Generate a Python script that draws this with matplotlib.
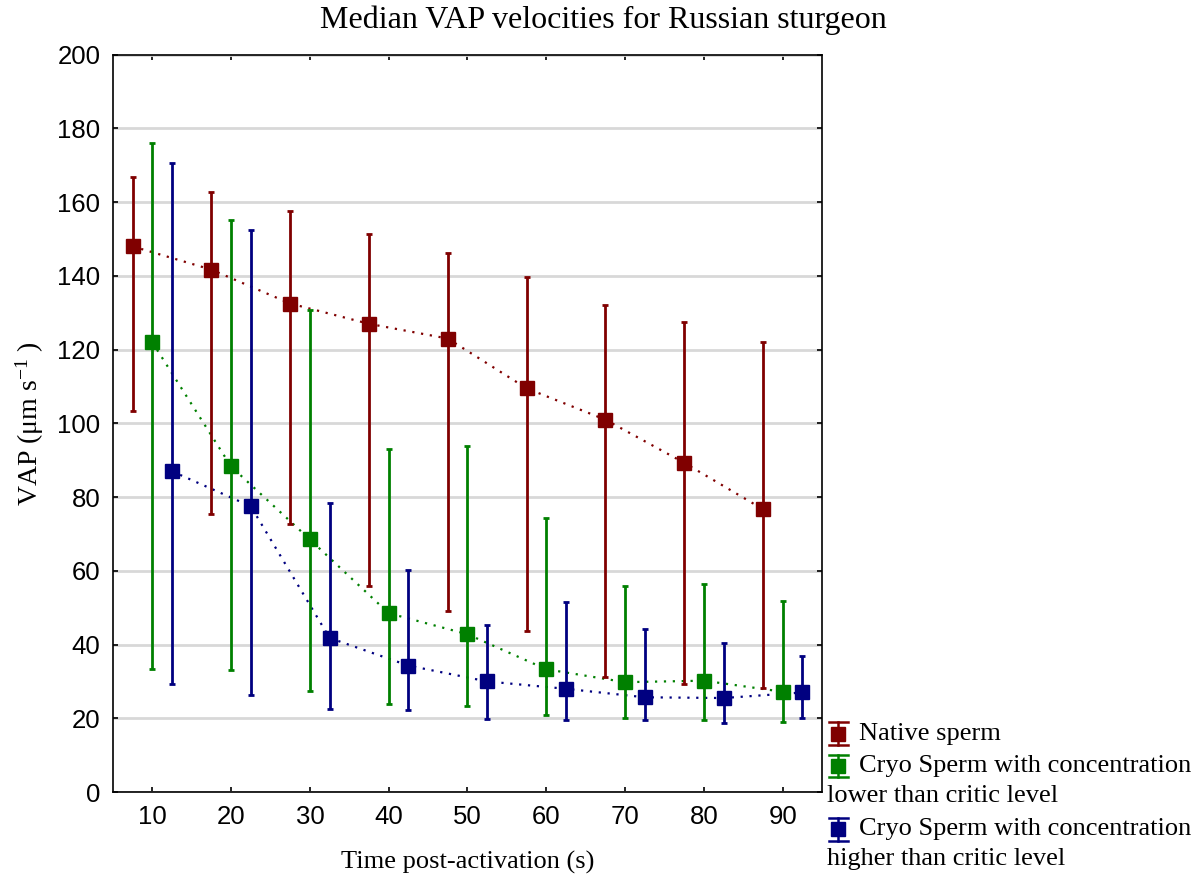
import matplotlib
matplotlib.use("Agg")
import matplotlib.pyplot as plt
from matplotlib.lines import Line2D
import numpy as np

plt.rcParams['mathtext.fontset'] = 'custom'
plt.rcParams['mathtext.rm'] = 'Liberation Serif'
plt.rcParams['mathtext.it'] = 'Liberation Serif:italic'

times = [10, 20, 30, 40, 50, 60, 70, 80, 90]
offsets = [-2.5, 0.0, 2.5]
labels = ["Native sperm",
          "Cryo Sperm with concentration\nlower than critic level",
          "Cryo Sperm with concentration\nhigher than critic level"]
colors = ["#800000", "#008000", "#000080"]

native_med = [148.0, 141.7, 132.5, 127.0, 123.0, 109.5, 101.0, 89.3, 76.7]
native_hi = [166.8, 162.8, 157.7, 151.4, 146.3, 139.6, 132.2, 127.6, 122.2]
native_lo = [103.3, 75.4, 72.6, 55.8, 49.1, 43.7, 31.2, 29.3, 28.2]

low_med = [122.0, 88.3, 68.5, 48.5, 42.8, 33.3, 29.8, 30.2, 27.2]
low_hi = [176.0, 155.2, 130.8, 93.0, 93.8, 74.4, 56.0, 56.5, 51.8]
low_lo = [33.3, 33.0, 27.4, 24.0, 23.4, 20.8, 20.0, 19.5, 19.0]

high_med = [87.0, 77.5, 41.8, 34.3, 30.0, 28.0, 25.7, 25.5, 27.0]
high_hi = [170.6, 152.5, 78.4, 60.2, 45.4, 51.6, 44.3, 40.5, 36.9]
high_lo = [29.4, 26.2, 22.4, 22.2, 19.8, 19.5, 19.5, 18.6, 20.2]

series = [(native_med, native_lo, native_hi),
          (low_med, low_lo, low_hi),
          (high_med, high_lo, high_hi)]

fig = plt.figure(figsize=(12.01, 8.82), dpi=100)
ax = fig.add_axes([0.094, 0.102, 0.5905, 0.836])

for (med, lo, hi), off, col in zip(series, offsets, colors):
    x = np.array(times) + off
    med = np.array(med); lo = np.array(lo); hi = np.array(hi)
    ax.plot(x, med, linestyle=(0, (1, 3)), color=col, lw=1.6, zorder=2)
    ax.errorbar(x, med, yerr=[med - lo, hi - med], fmt='s', color=col,
                ecolor=col, elinewidth=2, capsize=2.2, capthick=2,
                markersize=10.5, markeredgecolor=col, zorder=3)

ax.set_xlim(5, 95)
ax.set_ylim(0, 200)
ax.set_xticks(times)
ax.set_yticks(range(0, 201, 20))
ax.yaxis.grid(True, color='#d8d8d8', lw=2)
ax.set_axisbelow(True)
ax.tick_params(direction='in', length=3.5, width=1.2, labelsize=18.5,
               top=True, right=True, pad=9)
for lab in ax.get_xticklabels() + ax.get_yticklabels():
    lab.set_fontfamily('Liberation Sans')
for s in ax.spines.values():
    s.set_linewidth(1.2)

fig.text(0.502, 0.977, "Median VAP velocities for Russian sturgeon",
         fontfamily='Liberation Serif', fontsize=23, ha='center', va='center')
ax.set_xlabel("Time post-activation (s)", fontfamily='Liberation Serif',
              fontsize=19, labelpad=16)
ax.set_ylabel(r"VAP ($\mathrm{\mu}$m s$^{-1}$ )", fontfamily='Liberation Serif',
              fontsize=20, labelpad=8)

# manual legend outside lower right
ys = [0.168, 0.1315, 0.060]
for yy, col, lab in zip(ys, colors, labels):
    xm = 0.698
    fig.add_artist(Line2D([xm, xm], [yy - 0.013, yy + 0.013], color=col, lw=1.8,
                          transform=fig.transFigure))
    for dy in (-0.013, 0.013):
        fig.add_artist(Line2D([xm - 0.008, xm + 0.008], [yy + dy, yy + dy], color=col,
                              lw=1.8, transform=fig.transFigure))
    fig.add_artist(Line2D([xm], [yy], marker='s', markersize=9.5, color=col,
                          transform=fig.transFigure))
    lines = lab.split("\n")
    fig.text(0.715, yy, lines[0], fontfamily='Liberation Serif', fontsize=19,
             va='center', ha='left')
    if len(lines) > 1:
        fig.text(0.689, yy - 0.034, lines[1], fontfamily='Liberation Serif',
                 fontsize=19, va='center', ha='left')

fig.savefig("out.png", dpi=100)
